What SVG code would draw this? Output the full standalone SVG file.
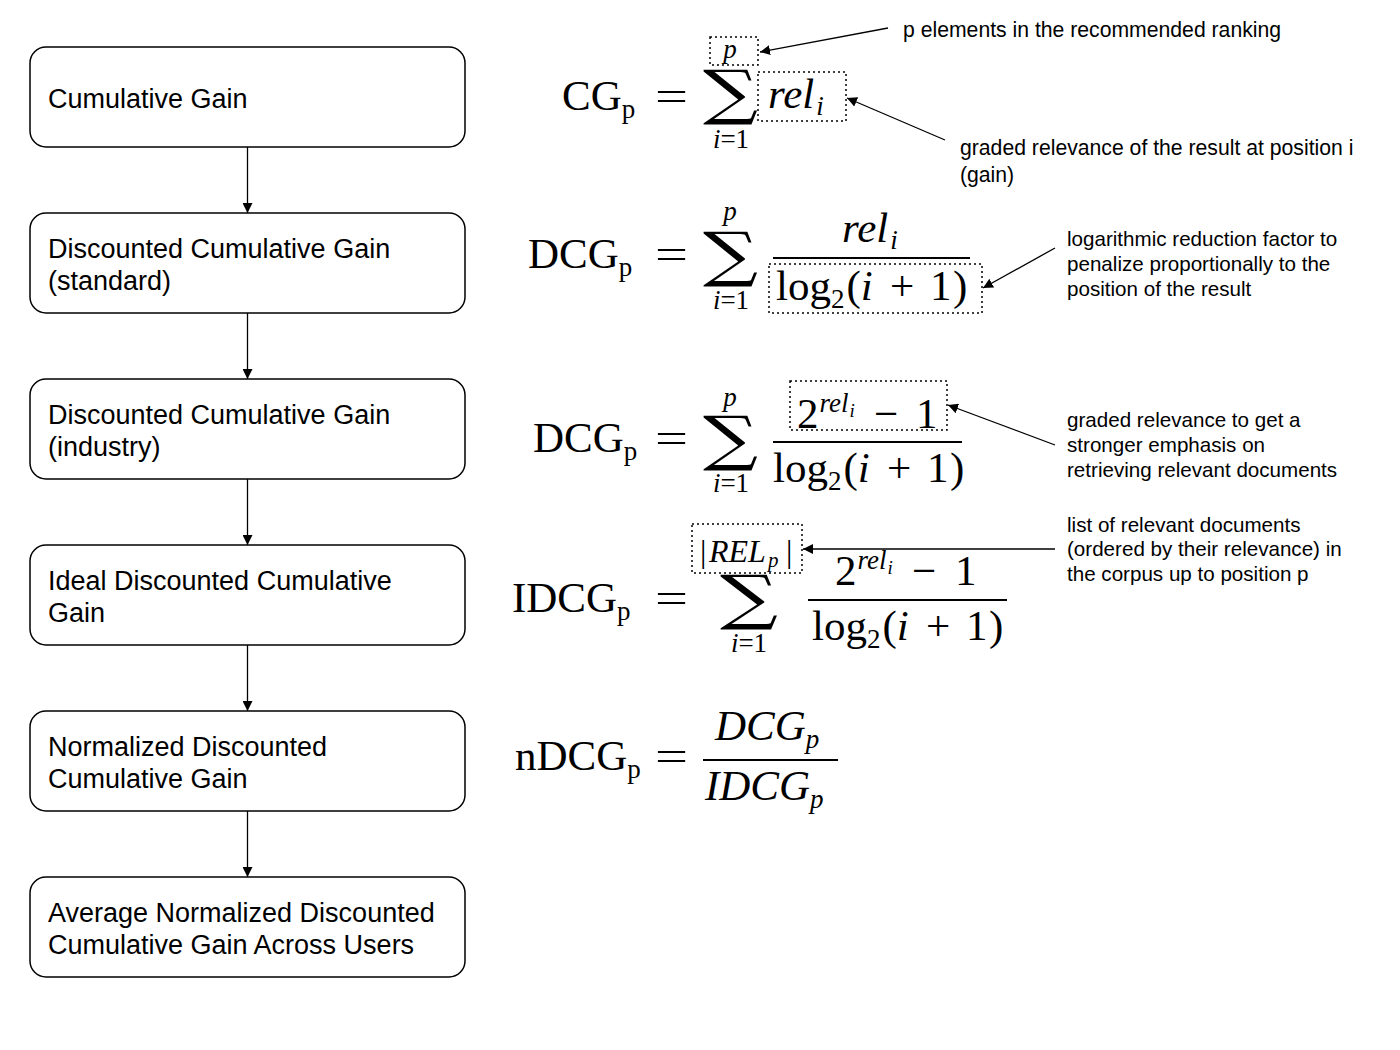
<svg xmlns="http://www.w3.org/2000/svg" width="1400" height="1050" viewBox="0 0 1400 1050">
<defs>
<style>
.box{fill:#fff;stroke:#000;stroke-width:1.5}
.lbl{font-family:"Liberation Sans",Arial,sans-serif;font-size:27px;fill:#000}
.ann{font-family:"Liberation Sans",Arial,sans-serif;font-size:21.2px;fill:#000}
.ann2{font-family:"Liberation Sans",Arial,sans-serif;font-size:20.6px;fill:#000}
.m{font-family:"Liberation Serif","Times New Roman",serif;fill:#000}
.it{font-style:italic}
.big{font-size:43px}
.sub{font-size:27px}
.ss{font-size:19px}
.sig{font-family:"DejaVu Serif",serif;font-size:60px}
.dot{fill:none;stroke:#000;stroke-width:1.5;stroke-dasharray:2 3}
.conn{stroke:#000;stroke-width:1.3;fill:none}
.frac{stroke:#000;stroke-width:2}
</style>
<marker id="ah" markerUnits="userSpaceOnUse" markerWidth="12" markerHeight="10" refX="10" refY="5" orient="auto">
<path d="M0,0 L10,5 L0,10 z" fill="#000"/>
</marker>
</defs>
<rect width="1400" height="1050" fill="#fff"/>

<g id="node-cg"><rect class="box" x="30" y="47" width="435" height="100" rx="16"/><text class="lbl" x="48" y="108">Cumulative Gain</text></g>
<g id="node-dcg-std"><rect class="box" x="30" y="213" width="435" height="100" rx="16"/><text class="lbl" x="48" y="258">Discounted Cumulative Gain</text><text class="lbl" x="48" y="290">(standard)</text></g>
<g id="node-dcg-ind"><rect class="box" x="30" y="379" width="435" height="100" rx="16"/><text class="lbl" x="48" y="424">Discounted Cumulative Gain</text><text class="lbl" x="48" y="456">(industry)</text></g>
<g id="node-idcg"><rect class="box" x="30" y="545" width="435" height="100" rx="16"/><text class="lbl" x="48" y="590">Ideal Discounted Cumulative</text><text class="lbl" x="48" y="622">Gain</text></g>
<g id="node-ndcg"><rect class="box" x="30" y="711" width="435" height="100" rx="16"/><text class="lbl" x="48" y="756">Normalized Discounted</text><text class="lbl" x="48" y="788">Cumulative Gain</text></g>
<g id="node-avg"><rect class="box" x="30" y="877" width="435" height="100" rx="16"/><text class="lbl" x="48" y="922">Average Normalized Discounted</text><text class="lbl" x="48" y="954">Cumulative Gain Across Users</text></g>

<g id="connectors">
<line class="conn" x1="247.5" y1="147" x2="247.5" y2="213" marker-end="url(#ah)"/>
<line class="conn" x1="247.5" y1="313" x2="247.5" y2="379" marker-end="url(#ah)"/>
<line class="conn" x1="247.5" y1="479" x2="247.5" y2="545" marker-end="url(#ah)"/>
<line class="conn" x1="247.5" y1="645" x2="247.5" y2="711" marker-end="url(#ah)"/>
<line class="conn" x1="247.5" y1="811" x2="247.5" y2="877" marker-end="url(#ah)"/>
<line class="conn" x1="888" y1="28" x2="760" y2="52" marker-end="url(#ah)"/>
<line class="conn" x1="945" y1="140" x2="847" y2="98" marker-end="url(#ah)"/>
<line class="conn" x1="1055" y1="248" x2="983" y2="288" marker-end="url(#ah)"/>
<line class="conn" x1="1055" y1="445" x2="948" y2="405" marker-end="url(#ah)"/>
<line class="conn" x1="1055" y1="549" x2="803" y2="549" marker-end="url(#ah)"/>
</g>

<g id="formula-cg">
<text class="m big" x="562" y="110">CG<tspan class="sub" dy="8">p</tspan></text>
<text class="m big" x="655" y="110" textLength="33" lengthAdjust="spacingAndGlyphs">=</text>
<text class="m sig" x="703" y="113" textLength="55" lengthAdjust="spacingAndGlyphs">∑</text>
<text class="m sub it" x="730" y="58" text-anchor="middle">p</text>
<text class="m sub" x="731" y="148" text-anchor="middle"><tspan class="it">i</tspan>=1</text>
<text class="m big it" x="768" y="108">rel<tspan class="sub" dx="2" dy="7">i</tspan></text>
<rect class="dot" x="710" y="37" width="48" height="28"/>
<rect class="dot" x="758" y="72" width="88" height="49"/>
</g>

<g id="formula-dcg-std">
<text class="m big" x="528" y="268">DCG<tspan class="sub" dy="8">p</tspan></text>
<text class="m big" x="655" y="268" textLength="33" lengthAdjust="spacingAndGlyphs">=</text>
<text class="m sig" x="703" y="275" textLength="55" lengthAdjust="spacingAndGlyphs">∑</text>
<text class="m sub it" x="730" y="220" text-anchor="middle">p</text>
<text class="m sub" x="731" y="309" text-anchor="middle"><tspan class="it">i</tspan>=1</text>
<text class="m big it" x="842" y="242">rel<tspan class="sub" dx="2" dy="7">i</tspan></text>
<line class="frac" x1="773" y1="258" x2="970" y2="258"/>
<text class="m big" x="776" y="300" font-size="44">log<tspan class="sub" dy="8">2</tspan><tspan dx="2" dy="-8">(</tspan><tspan class="it">i</tspan><tspan x="890">+</tspan><tspan x="930">1</tspan><tspan x="953">)</tspan></text>
<rect class="dot" x="769" y="264" width="213" height="49"/>
</g>

<g id="formula-dcg-ind">
<text class="m big" x="533" y="452">DCG<tspan class="sub" dy="8">p</tspan></text>
<text class="m big" x="655" y="452" textLength="33" lengthAdjust="spacingAndGlyphs">=</text>
<text class="m sig" x="703" y="459" textLength="55" lengthAdjust="spacingAndGlyphs">∑</text>
<text class="m sub it" x="730" y="406" text-anchor="middle">p</text>
<text class="m sub" x="731" y="492" text-anchor="middle"><tspan class="it">i</tspan>=1</text>
<text class="m big" x="797" y="428">2<tspan class="sub it" dx="1" dy="-16">rel</tspan><tspan class="ss it" dx="1" dy="5">i</tspan><tspan x="874" dy="11">−</tspan><tspan x="916">1</tspan></text>
<line class="frac" x1="773" y1="442" x2="962" y2="442"/>
<text class="m big" x="773" y="482" font-size="44">log<tspan class="sub" dy="8">2</tspan><tspan dx="2" dy="-8">(</tspan><tspan class="it">i</tspan><tspan x="887">+</tspan><tspan x="927">1</tspan><tspan x="950">)</tspan></text>
<rect class="dot" x="790" y="381" width="157" height="49"/>
</g>

<g id="formula-idcg">
<text class="m big" x="512" y="612">IDCG<tspan class="sub" dy="8">p</tspan></text>
<text class="m big" x="655" y="612" textLength="33" lengthAdjust="spacingAndGlyphs">=</text>
<text class="m sig" x="720" y="618" textLength="58" lengthAdjust="spacingAndGlyphs">∑</text>
<text class="m" font-size="32" x="700" y="562">|<tspan class="it" x="709">REL</tspan><tspan class="it" font-size="21" x="768" dy="5">p</tspan><tspan x="786" dy="-5">|</tspan></text>
<text class="m sub" x="749" y="652" text-anchor="middle"><tspan class="it">i</tspan>=1</text>
<rect class="dot" x="692" y="524" width="110" height="49"/>
<text class="m big" x="835" y="585">2<tspan class="sub it" dx="1" dy="-16">rel</tspan><tspan class="ss it" dx="1" dy="5">i</tspan><tspan x="912" dy="11">−</tspan><tspan x="955">1</tspan></text>
<line class="frac" x1="808" y1="600" x2="1007" y2="600"/>
<text class="m big" x="812" y="640" font-size="44">log<tspan class="sub" dy="8">2</tspan><tspan dx="2" dy="-8">(</tspan><tspan class="it">i</tspan><tspan x="926">+</tspan><tspan x="966">1</tspan><tspan x="989">)</tspan></text>
</g>

<g id="formula-ndcg">
<text class="m big" x="515" y="770">nDCG<tspan class="sub" dy="8">p</tspan></text>
<text class="m big" x="655" y="770" textLength="33" lengthAdjust="spacingAndGlyphs">=</text>
<text class="m big it" x="715" y="740" font-size="44">DCG<tspan class="sub" dy="8">p</tspan></text>
<line class="frac" x1="703" y1="760" x2="838" y2="760"/>
<text class="m big it" x="705" y="800" font-size="44">IDCG<tspan class="sub" dy="8">p</tspan></text>
</g>

<g id="annotations">
<text class="ann" x="903" y="37">p elements in the recommended ranking</text>
<text class="ann" x="960" y="155">graded relevance of the result at position i</text>
<text class="ann" x="960" y="182">(gain)</text>
<text class="ann2" x="1067" y="246">logarithmic reduction factor to</text>
<text class="ann2" x="1067" y="271">penalize proportionally to the</text>
<text class="ann2" x="1067" y="296">position of the result</text>
<text class="ann2" x="1067" y="427">graded relevance to get a</text>
<text class="ann2" x="1067" y="452">stronger emphasis on</text>
<text class="ann2" x="1067" y="477">retrieving relevant documents</text>
<text class="ann2" x="1067" y="532">list of relevant documents</text>
<text class="ann2" x="1067" y="556">(ordered by their relevance) in</text>
<text class="ann2" x="1067" y="581">the corpus up to position p</text>
</g>
</svg>
